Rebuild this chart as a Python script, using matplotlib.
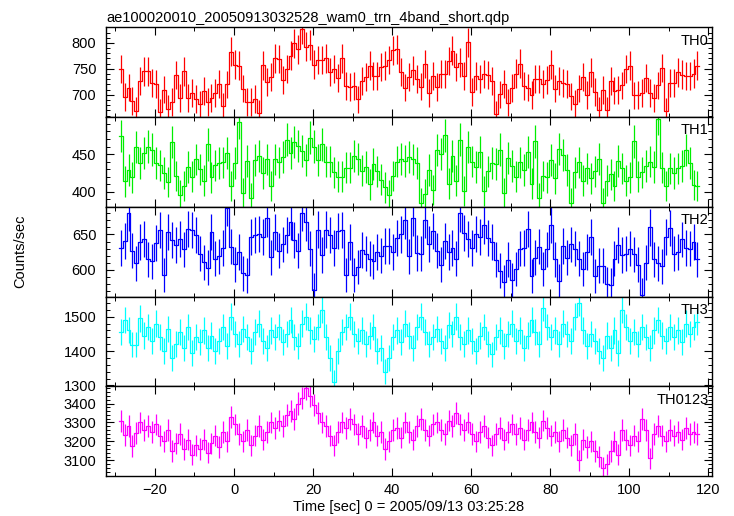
import numpy as np
import matplotlib
matplotlib.use('Agg')
import matplotlib.pyplot as plt
from matplotlib.ticker import MultipleLocator

plt.rcParams['font.family'] = ['Liberation Sans', 'DejaVu Sans']

# 1 s bins, first bin starts at -29.2 s
t_start = -29.2
bin_size = 1.0

th0 = [750, 696, 714, 688, 669, 726, 745, 745, 723, 721, 667, 710, 673, 686, 738, 694, 745, 694, 704, 692,
       682, 707, 686, 694, 703, 721, 678, 720, 783, 758, 756, 712, 686, 686, 692, 665, 757, 725, 734, 770,
       769, 728, 750, 775, 799, 788, 827, 793, 796, 758, 767, 767, 770, 744, 750, 732, 770, 717, 715, 717,
       691, 726, 734, 756, 736, 736, 754, 756, 767, 786, 788, 744, 714, 734, 747, 730, 716, 759, 704, 736,
       715, 740, 740, 765, 785, 754, 762, 736, 801, 705, 736, 731, 740, 738, 727, 663, 701, 721, 685, 713,
       741, 760, 717, 714, 700, 730, 730, 721, 729, 758, 712, 727, 723, 721, 697, 683, 712, 734, 700, 743,
       705, 670, 709, 670, 726, 708, 709, 718, 750, 756, 699, 700, 704, 733, 704, 694, 718, 752, 668, 722,
       723, 743, 739, 736, 736, 741, 756]

th1 = [474, 414, 429, 419, 459, 438, 451, 460, 456, 438, 435, 425, 413, 466, 421, 396, 408, 433, 420, 443,
       430, 415, 463, 419, 435, 438, 439, 451, 408, 438, 492, 398, 441, 392, 442, 447, 425, 443, 408, 443,
       439, 446, 469, 452, 466, 461, 454, 442, 472, 460, 442, 463, 440, 440, 426, 420, 420, 432, 432, 447,
       444, 428, 433, 410, 437, 427, 416, 406, 396, 421, 440, 444, 441, 446, 443, 438, 385, 397, 429, 402,
       455, 450, 475, 411, 447, 415, 469, 401, 459, 440, 433, 453, 401, 427, 438, 437, 456, 399, 445, 434,
       420, 439, 429, 453, 411, 467, 392, 421, 419, 442, 418, 457, 449, 429, 385, 426, 439, 415, 431, 418,
       427, 444, 385, 415, 423, 408, 441, 431, 415, 419, 467, 420, 426, 434, 440, 433, 497, 432, 408, 431,
       425, 431, 434, 455, 438, 409, 408]

th2 = [631, 641, 681, 627, 609, 639, 644, 615, 612, 638, 656, 593, 653, 642, 635, 644, 629, 658, 656, 649,
       623, 611, 603, 653, 616, 619, 631, 688, 633, 608, 625, 595, 592, 647, 649, 651, 646, 673, 618, 654,
       627, 636, 649, 668, 642, 627, 681, 667, 630, 572, 657, 621, 657, 649, 631, 655, 656, 593, 639, 593,
       604, 628, 623, 616, 612, 625, 620, 634, 634, 625, 645, 650, 670, 619, 674, 624, 623, 671, 637, 655,
       627, 607, 641, 625, 631, 616, 680, 652, 644, 631, 651, 646, 663, 645, 639, 614, 599, 583, 614, 585,
       601, 630, 631, 658, 591, 617, 633, 601, 629, 664, 615, 584, 634, 617, 636, 630, 616, 601, 625, 646,
       591, 606, 606, 580, 579, 616, 635, 621, 623, 630, 622, 607, 565, 610, 660, 615, 609, 605, 646, 659,
       623, 625, 643, 631, 630, 639, 615]

th3 = [1456, 1490, 1461, 1419, 1419, 1495, 1445, 1470, 1430, 1480, 1440, 1400, 1465, 1380, 1420, 1455, 1410, 1470, 1395, 1440,
       1425, 1460, 1410, 1445, 1400, 1430, 1470, 1415, 1500, 1450, 1420, 1465, 1440, 1400, 1455, 1480, 1430, 1410, 1460, 1440,
       1470, 1425, 1450, 1490, 1440, 1415, 1480, 1500, 1460, 1435, 1470, 1520, 1440, 1380, 1310, 1400, 1455, 1470, 1500, 1450,
       1430, 1460, 1420, 1445, 1470, 1400, 1410, 1340, 1380, 1440, 1460, 1425, 1480, 1445, 1410, 1470, 1500, 1455, 1420, 1440,
       1465, 1430, 1410, 1475, 1450, 1500, 1440, 1420, 1460, 1430, 1400, 1445, 1470, 1420, 1390, 1440, 1460, 1415, 1450, 1480,
       1430, 1460, 1410, 1445, 1490, 1455, 1420, 1525, 1470, 1440, 1460, 1420, 1480, 1450, 1430, 1500, 1540, 1460, 1415, 1450,
       1430, 1400, 1380, 1445, 1410, 1460, 1395, 1520, 1470, 1430, 1455, 1420, 1470, 1440, 1410, 1460, 1490, 1445, 1430, 1470,
       1440, 1460, 1425, 1480, 1450, 1470, 1485]

th0123 = [3307, 3234, 3283, 3176, 3243, 3300, 3260, 3280, 3250, 3290, 3230, 3200, 3260, 3150, 3190, 3240, 3160, 3210, 3130, 3180,
          3160, 3210, 3140, 3190, 3230, 3170, 3250, 3200, 3330, 3290, 3240, 3200, 3260, 3180, 3230, 3280, 3210, 3250, 3300, 3270,
          3310, 3280, 3340, 3360, 3320, 3400, 3430, 3480, 3440, 3390, 3350, 3300, 3280, 3230, 3180, 3250, 3300, 3270, 3320, 3290,
          3240, 3280, 3220, 3260, 3300, 3230, 3250, 3160, 3200, 3260, 3270, 3220, 3300, 3250, 3210, 3280, 3320, 3260, 3230, 3290,
          3300, 3260, 3240, 3310, 3280, 3350, 3290, 3260, 3300, 3240, 3200, 3250, 3280, 3220, 3180, 3240, 3270, 3210, 3250, 3290,
          3240, 3270, 3210, 3260, 3300, 3250, 3220, 3310, 3270, 3230, 3250, 3200, 3260, 3220, 3180, 3240, 3100, 3210, 3170, 3200,
          3150, 3120, 3060, 3080, 3150, 3200, 3130, 3260, 3210, 3180, 3230, 3200, 3320, 3260, 3110, 3240, 3280, 3230, 3200, 3260,
          3230, 3250, 3210, 3270, 3240, 3250, 3240]

names = ['TH0', 'TH1', 'TH2', 'TH3', 'TH0123']
series = [th0, th1, th2, th3, th0123]
colors = ['#ff0000', '#00ee00', '#0000ff', '#00ffff', '#ff00ff']
ylims = [(657, 830), (380, 499), (562, 689), (1297, 1558), (3016, 3490)]
ymajor = [50, 50, 50, 100, 100]
yminor = [10, 10, 10, 20, 20]

fig = plt.figure(figsize=(7.34, 5.16), dpi=100)
gs = fig.add_gridspec(5, 1, left=0.1444, right=0.9696, top=0.947, bottom=0.077, hspace=0)

for i in range(5):
    ax = fig.add_subplot(gs[i])
    vals = np.array(series[i], dtype=float)
    edges = t_start + bin_size * np.arange(len(vals) + 1)
    centers = edges[:-1] + bin_size / 2
    err = np.sqrt(vals / bin_size)  # poisson error on rate
    ax.step(edges, np.append(vals, vals[-1]), where='post', color=colors[i], lw=0.9)
    ax.vlines(centers, vals - err, vals + err, color=colors[i], lw=0.9)
    ax.set_xlim(-32.4, 120.9)
    ax.set_ylim(*ylims[i])
    ax.xaxis.set_major_locator(MultipleLocator(20))
    ax.xaxis.set_minor_locator(MultipleLocator(10))
    ax.yaxis.set_major_locator(MultipleLocator(ymajor[i]))
    ax.yaxis.set_minor_locator(MultipleLocator(yminor[i]))
    ax.tick_params(which='both', direction='in', top=True, right=True, labelsize=10.5, pad=7)
    ax.tick_params(which='major', length=5.5, width=0.8)
    ax.tick_params(which='minor', length=3, width=0.7)
    for sp in ax.spines.values():
        sp.set_linewidth(1.0)
    if i < 4:
        ax.tick_params(labelbottom=False)
    else:
        ax.tick_params(axis='x', pad=5)
    ax.text(0.995, 0.93, names[i], transform=ax.transAxes, ha='right', va='top', fontsize=10.5)
    if i == 0:
        ax.set_title('ae100020010_20050913032528_wam0_trn_4band_short.qdp', loc='left', fontsize=10.5, pad=4)
    if i == 4:
        ax.set_xlabel('Time [sec] 0 = 2005/09/13 03:25:28', fontsize=10.5, labelpad=2)

fig.text(0.028, 0.513, 'Counts/sec', rotation=90, ha='center', va='center', fontsize=10.5)

fig.savefig('out.png', dpi=100)
